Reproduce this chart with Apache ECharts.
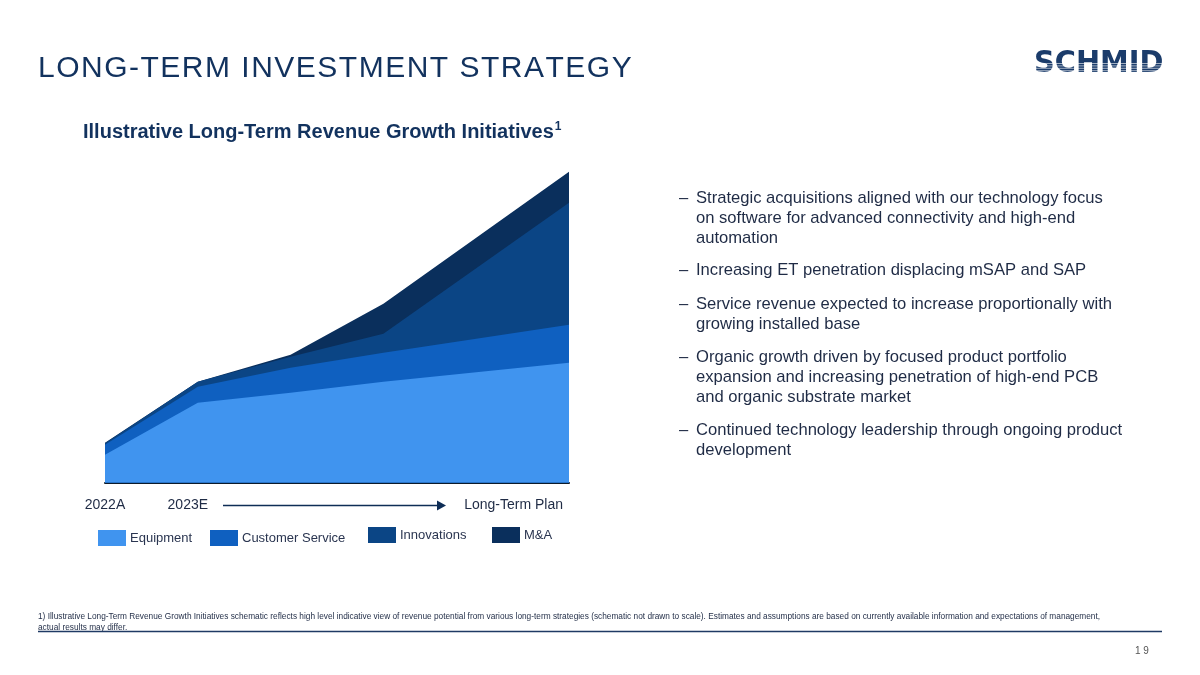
<!DOCTYPE html>
<html>
<head>
<meta charset="utf-8">
<script src="https://cdn.jsdelivr.net/npm/echarts@6/dist/echarts.min.js"></script>
<style>
html,body{margin:0;padding:0;background:#fff;}
#chart{width:1200px;height:675px;}
</style>
</head>
<body>
<div id="chart"></div>
<script>
// ---- data (illustrative; arbitrary units) ----
const xPositions = [0, 1, 2, 3, 5];
const xTickLabels = {0: '2022A', 1: '2023E', 5: 'Long-Term Plan'};
const seriesNames = ['Equipment', 'Customer Service', 'Innovations', 'M&A'];
const equipment = [28, 80, 90, 101, 120];
const customerService = [10, 16, 25, 29, 38];
const innovations = [1.5, 5, 11, 19, 122];
const mna = [0.5, 0, 2, 30, 31];
const seriesColors = ['#4094ef', '#0f60c0', '#0b4585', '#0a2f5c'];

const bullets = [
  ['Strategic acquisitions aligned with our technology focus', 'on software for advanced connectivity and high-end', 'automation'],
  ['Increasing ET penetration displacing mSAP and SAP'],
  ['Service revenue expected to increase proportionally with', 'growing installed base'],
  ['Organic growth driven by focused product portfolio', 'expansion and increasing penetration of high-end PCB', 'and organic substrate market'],
  ['Continued technology leadership through ongoing product', 'development']
];
const bulletTops = [198.5, 270.5, 304, 357.5, 430.5];

const FONT = '"Liberation Sans", Arial, sans-serif';
const NAVY = '#12325e';
const TEXT = '#1f2b45';

const chart = echarts.init(document.getElementById('chart'));

// cumulative stacking built from the value arrays
const valueSets = [equipment, customerService, innovations, mna];
const cumulative = valueSets.map((arr, i) =>
  xPositions.map((x, j) => {
    let s = 0;
    for (let k = 0; k <= i; k++) s += valueSets[k][j];
    return [x, s];
  })
);
const series = [];
for (let i = seriesNames.length - 1; i >= 0; i--) {
  series.push({
    name: seriesNames[i],
    type: 'line',
    symbol: 'none',
    smooth: false,
    lineStyle: {width: 0},
    itemStyle: {color: seriesColors[i]},
    areaStyle: {color: seriesColors[i], opacity: 1},
    data: cumulative[i]
  });
}

const legendPos = [[98, 530], [210, 530], [368, 527], [492, 527]];
const legends = seriesNames.map((name, i) => ({
  data: [name],
  left: legendPos[i][0],
  top: legendPos[i][1],
  padding: 0,
  itemWidth: 28,
  itemHeight: 16,
  icon: 'rect',
  selectedMode: false,
  itemStyle: {borderWidth: 0},
  textStyle: {fontFamily: FONT, fontSize: 13, color: '#2a3550', padding: [0, 0, 0, -1]}
}));

const graphics = [];
// title with letter spacing (each character placed from measured widths)
(function () {
  const title = 'LONG-TERM INVESTMENT STRATEGY';
  const font = 'normal 30px ' + FONT;
  const ctx = document.createElement('canvas').getContext('2d');
  ctx.font = font;
  let x = 38;
  for (const ch of title) {
    graphics.push({type: 'text', x: x, y: 69, style: {text: ch, font: font, fill: NAVY, verticalAlign: 'middle'}});
    x += ctx.measureText(ch).width + 1.5;
  }
})();
// subtitle with superscript
graphics.push({type: 'text', left: 83, top: 121, style: {
  text: '{a|Illustrative Long-Term Revenue Growth Initiatives}{s|1}',
  rich: {
    a: {font: 'bold 20px ' + FONT, fill: NAVY},
    s: {font: 'bold 12px ' + FONT, fill: NAVY, verticalAlign: 'top', padding: [0, 0, 10, 1]}
  }
}});
// logo
graphics.push({type: 'text', x: 1034, y: 64, scaleX: 0.93, originX: 0, originY: 0,
  style: {text: 'SCHMID', font: '900 31px "DejaVu Sans", sans-serif', fill: '#1b3c6b', verticalAlign: 'middle'}});
for (let k = 0; k < 6; k++) {
  graphics.push({type: 'line', shape: {x1: 1030, y1: 63.5 + k * 2.4, x2: 1170, y2: 63.5 + k * 2.4}, style: {stroke: '#ffffff', lineWidth: 0.8, opacity: 0.75}, z: 10});
}
// arrow under axis
graphics.push({type: 'line', shape: {x1: 223, y1: 505.5, x2: 440, y2: 505.5}, style: {stroke: '#0e2d56', lineWidth: 1.5}});
graphics.push({type: 'polygon', shape: {points: [[437, 500.5], [446, 505.5], [437, 510.5]]}, style: {fill: '#0e2d56'}});
// bullets
bullets.forEach((lines, b) => {
  lines.forEach((ln, li) => {
    const y = bulletTops[b] + li * 20;
    if (li === 0) {
      graphics.push({type: 'text', x: 679, y: y, style: {text: '\u2013', font: '16.6px ' + FONT, fill: TEXT, verticalAlign: 'middle'}});
    }
    graphics.push({type: 'text', x: 696, y: y, style: {text: ln, font: '16.6px ' + FONT, fill: TEXT, verticalAlign: 'middle'}});
  });
});
// footnote
const fnFont = '9.5px ' + FONT;
graphics.push({type: 'text', x: 38, y: 616, scaleX: 0.873, originX: 0, originY: 0, style: {text: '1) Illustrative Long-Term Revenue Growth Initiatives schematic reflects high level indicative view of revenue potential from various long-term strategies (schematic not drawn to scale). Estimates and assumptions are based on currently available information and expectations of management,', font: fnFont, fill: '#1f2b45', verticalAlign: 'middle'}});
graphics.push({type: 'text', x: 38, y: 627, scaleX: 0.873, originX: 0, originY: 0, style: {text: 'actual results may differ.', font: fnFont, fill: '#1f2b45', verticalAlign: 'middle'}});
graphics.push({type: 'line', shape: {x1: 38, y1: 631.5, x2: 1162, y2: 631.5}, style: {stroke: '#1f3a64', lineWidth: 1.5}});
graphics.push({type: 'text', x: 1135, y: 651, style: {text: '1 9', font: '10px ' + FONT, fill: '#555', verticalAlign: 'middle'}});

chart.setOption({
  animation: false,
  backgroundColor: '#ffffff',
  grid: {left: 105, right: 631, top: 162.7, bottom: 192.3, containLabel: false},
  xAxis: {
    type: 'value', min: 0, max: 5, interval: 1,
    axisLine: {show: true, onZero: false, lineStyle: {color: '#0d1b2a', width: 2}},
    axisTick: {show: false},
    splitLine: {show: false},
    axisLabel: {
      margin: 15,
      fontFamily: FONT, fontSize: 14, color: '#1f2b45',
      alignMaxLabel: 'right',
      formatter: function (v) {
        if (v === 1) return '{b|' + xTickLabels[1] + '}';
        if (v === 5) return '{c|' + xTickLabels[5] + '}';
        return xTickLabels[v] || '';
      },
      rich: {
        b: {fontFamily: FONT, fontSize: 14, color: '#1f2b45', padding: [0, 20, 0, 0]},
        c: {fontFamily: FONT, fontSize: 14, color: '#1f2b45', padding: [0, 6, 0, 0]}
      }
    }
  },
  yAxis: {type: 'value', min: 0, max: 320, show: false},
  legend: legends,
  series: series,
  graphic: graphics
});
</script>
</body>
</html>
